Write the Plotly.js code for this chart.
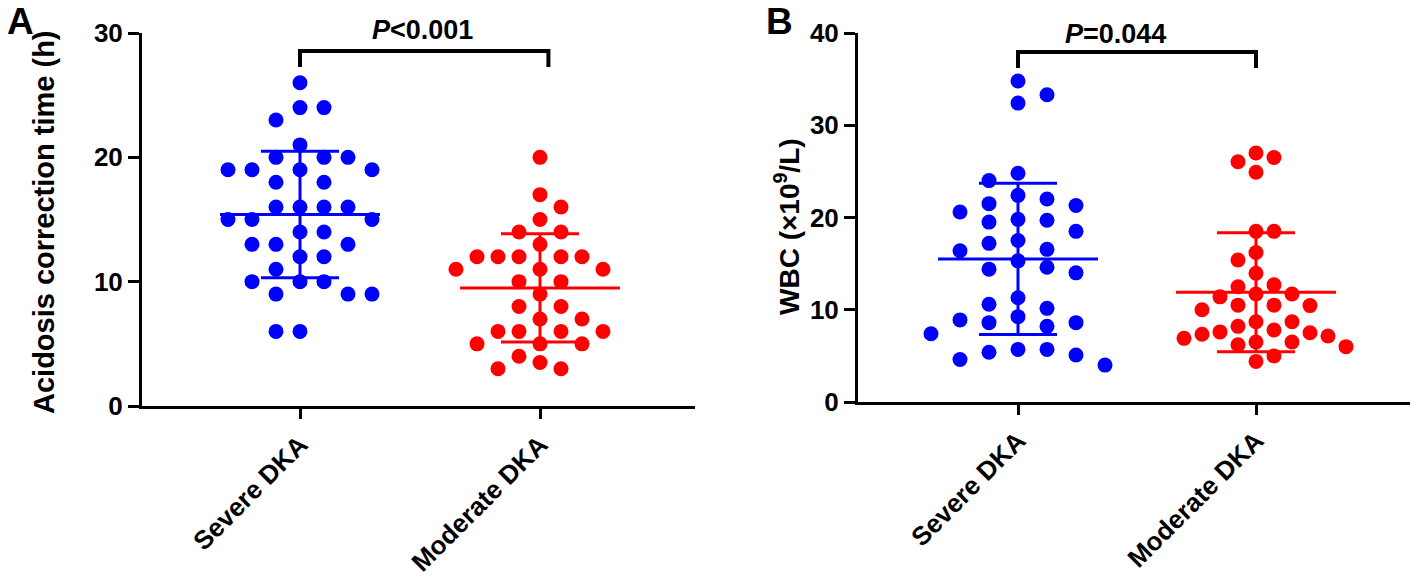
<!DOCTYPE html>
<html>
<head>
<meta charset="utf-8">
<script src="https://cdn.plot.ly/plotly-3.0.1.min.js"></script>
<style>
  html, body { margin: 0; padding: 0; background: #fff; }
  #chart { width: 1416px; height: 580px; }
</style>
</head>
<body>
<div id="chart"></div>
<script>
// groups
var groups = ["Severe DKA", "Moderate DKA"];

// panel A: acidosis correction time (h)
var severeAcid = [26, 24, 24, 23, 21, 20, 20, 20, 19, 19, 19, 19, 18, 18, 16, 16, 16, 16,
  15, 15, 15, 14, 14, 13, 13, 13, 12, 12, 11, 10, 10, 10, 9, 9, 9, 6, 6];
var moderateAcid = [20, 17, 16, 15, 14, 14, 13, 12, 12, 12, 12, 12, 11, 11, 11, 10, 10, 9,
  8, 8, 7, 7, 6, 6, 6, 6, 5, 5, 5, 4, 3.5, 3, 3];

// panel B: WBC (x10^9/L)
var severeWBC = [34.8, 33.3, 32.4, 24.8, 24.0, 22.4, 22.0, 21.5, 21.3, 20.6, 19.8, 19.7, 19.5,
  18.5, 17.5, 17.2, 16.55, 16.4, 15.3, 14.6, 14.4, 14.0, 11.3, 10.6, 10.15, 9.25, 8.9, 8.6, 8.6,
  8.2, 7.4, 5.7, 5.7, 5.4, 5.1, 4.6, 4.0];
var moderateWBC = [27.0, 26.5, 26.05, 24.9, 18.5, 18.5, 16.2, 15.4, 13.95, 12.7, 12.5, 11.7, 11.7,
  11.4, 10.5, 10.5, 10.45, 10.0, 8.7, 8.7, 8.2, 7.8, 7.6, 7.5, 7.35, 7.15, 6.9, 6.5, 6.5, 6.2,
  6.0, 5.0, 4.4];

var pTextA = "<i>P</i>&lt;0.001";
var pTextB = "<i>P</i>=0.044";

var W = 1416, H = 580;
var BLUE = "#0000ff", RED = "#ff0000";
var FONT = "Liberation Sans, Arial, sans-serif";

// pixel boxes of the two plot areas
var boxA = {l: 142, r: 695, t: 33, b: 406, c0: 300, step: 240, ymax: 30};
var boxB = {l: 858, r: 1410, t: 33, b: 402, c0: 1018, step: 238, ymax: 40};

function mean(a) { return a.reduce(function (s, v) { return s + v; }, 0) / a.length; }
function sd(a) {
  var m = mean(a);
  return Math.sqrt(a.reduce(function (s, v) { return s + (v - m) * (v - m); }, 0) / (a.length - 1));
}

// simple beeswarm: offsets in px, columns of width colW
function swarm(vals, pxY, colW, minDist) {
  var idx = vals.map(function (v, i) { return i; }).sort(function (a, b) { return vals[b] - vals[a]; });
  var placed = [], off = [], bal = 0;
  idx.forEach(function (i) {
    var y = vals[i] * pxY, got = null;
    var fits = function (dx) {
      return placed.every(function (p) { return (p.x - dx) * (p.x - dx) + (p.y - y) * (p.y - y) >= minDist * minDist; });
    };
    for (var k = 0; k < 30 && got === null; k++) {
      var cands = k === 0 ? [0] : (bal > 0 ? [-k, k] : [k, -k]);
      for (var j = 0; j < cands.length; j++) {
        if (fits(cands[j] * colW)) { got = cands[j] * colW; break; }
      }
    }
    bal += Math.sign(got);
    placed.push({x: got, y: y});
    off[i] = got;
  });
  return off;
}

function panel(box, vals, c, color, colW, xa, ya) {
  var pxY = (box.b - box.t) / box.ymax;
  var off = swarm(vals, pxY, colW, 17.5);
  var m = mean(vals), s = sd(vals);
  return [
    {x: off.map(function (o) { return c + o / box.step; }), y: vals, xaxis: xa, yaxis: ya,
     type: "scatter", mode: "markers", cliponaxis: false, hoverinfo: "skip",
     marker: {color: color, size: 15, line: {width: 0}}},
    {x: [c - 80 / box.step, c + 80 / box.step], y: [m, m], xaxis: xa, yaxis: ya,
     type: "scatter", mode: "lines", hoverinfo: "skip", line: {color: color, width: 3}},
    {x: [c], y: [m], xaxis: xa, yaxis: ya, type: "scatter", mode: "markers", hoverinfo: "skip",
     marker: {color: color, size: 1},
     error_y: {type: "data", array: [s], visible: true, color: color, thickness: 3, width: 39}}
  ];
}

var data = []
  .concat(panel(boxA, severeAcid, 0, BLUE, 24, "x", "y"))
  .concat(panel(boxA, moderateAcid, 1, RED, 21, "x", "y"))
  .concat(panel(boxB, severeWBC, 0, BLUE, 29, "x2", "y2"))
  .concat(panel(boxB, moderateWBC, 1, RED, 18, "x2", "y2"));

function xaxis(box) {
  return {
    domain: [box.l / W, box.r / W],
    range: [-(box.c0 - box.l) / box.step, (box.r - box.c0) / box.step],
    tickvals: [0, 1], ticktext: groups, tickangle: -45,
    ticks: "outside", ticklen: 10, tickwidth: 3, tickcolor: "#000",
    showline: true, linewidth: 3, linecolor: "#000",
    showgrid: false, zeroline: false, fixedrange: true,
    tickfont: {family: FONT, size: 26, color: "#000", weight: "bold"}
  };
}
function yaxis(box) {
  return {
    domain: [(H - box.b) / H, (H - box.t) / H],
    range: [0, box.ymax], dtick: 10, tick0: 0,
    ticks: "outside", ticklen: 11, tickwidth: 3, tickcolor: "#000",
    showline: true, linewidth: 3, linecolor: "#000",
    showgrid: false, zeroline: false, fixedrange: true,
    tickfont: {family: FONT, size: 26, color: "#000", weight: "bold"}
  };
}

function py(px) { return (H - px) / H; }
function px(x) { return x / W; }

var txt = {family: FONT, size: 27, color: "#000", weight: "bold"};

var layout = {
  width: W, height: H,
  margin: {l: 0, r: 0, t: 0, b: 0},
  paper_bgcolor: "#fff", plot_bgcolor: "rgba(0,0,0,0)",
  showlegend: false,
  xaxis: xaxis(boxA), yaxis: yaxis(boxA),
  xaxis2: Object.assign(xaxis(boxB), {anchor: "y2"}),
  yaxis2: Object.assign(yaxis(boxB), {anchor: "x2"}),
  shapes: [
    {type: "path", xref: "x", yref: "paper", line: {color: "#000", width: 4},
     path: "M0," + py(67) + " L0," + py(51) + " L1.035," + py(51) + " L1.035," + py(67)},
    {type: "path", xref: "x2", yref: "paper", line: {color: "#000", width: 4},
     path: "M0," + py(68) + " L0," + py(52) + " L1," + py(52) + " L1," + py(68)}
  ],
  annotations: [
    {xref: "x", yref: "paper", x: 0.51, y: py(30), text: pTextA, showarrow: false,
     xanchor: "center", yanchor: "middle", font: txt},
    {xref: "x2", yref: "paper", x: 0.41, y: py(34), text: pTextB, showarrow: false,
     xanchor: "center", yanchor: "middle", font: txt},
    {xref: "paper", yref: "paper", x: px(44), y: py(222), textangle: -90,
     text: "Acidosis correction time (h)", showarrow: false,
     xanchor: "center", yanchor: "middle", font: {family: FONT, size: 29, color: "#000", weight: "bold"}},
    {xref: "paper", yref: "paper", x: px(787), y: py(227), textangle: -90,
     text: "WBC (×10<sup>9</sup>/L)", showarrow: false,
     xanchor: "center", yanchor: "middle", font: {family: FONT, size: 28, color: "#000", weight: "bold"}},
    {xref: "paper", yref: "paper", x: px(20), y: 1, text: "A", showarrow: false, borderpad: 0,
     xanchor: "center", yanchor: "top", font: {family: FONT, size: 37, color: "#000", weight: "bold"}},
    {xref: "paper", yref: "paper", x: px(779), y: 1, text: "B", showarrow: false, borderpad: 0,
     xanchor: "center", yanchor: "top", font: {family: FONT, size: 37, color: "#000", weight: "bold"}}
  ]
};

Plotly.newPlot("chart", data, layout, {displayModeBar: false, staticPlot: true});
</script>
</body>
</html>
